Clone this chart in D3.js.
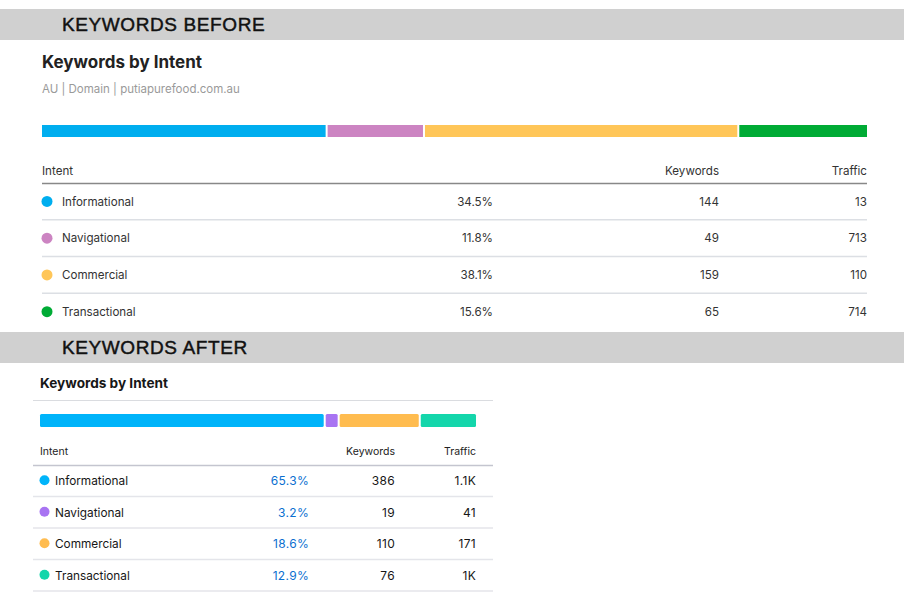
<!DOCTYPE html>
<html>
<head>
<meta charset="utf-8">
<script src="https://cdn.jsdelivr.net/npm/d3@7"></script>
<style>
  body { margin: 0; background: #fff; }
  svg { display: block; }
  text { font-family: Inter, "Noto Sans", sans-serif; }
</style>
</head>
<body>
<div id="chart"></div>
<script>
var svgWidth = 904;
var svgHeight = 601;

// data
var intents = ["Informational", "Navigational", "Commercial", "Transactional"];

var beforePct = [34.5, 11.8, 38.1, 15.6];
var beforeKeywords = [144, 49, 159, 65];
var beforeTraffic = ["13", "713", "110", "714"];
var beforeColors = ["#00aeef", "#cc84c2", "#ffc658", "#00ab35"];

var afterPct = [65.3, 3.2, 18.6, 12.9];
var afterKeywords = [386, 19, 110, 76];
var afterTraffic = ["1.1K", "41", "171", "1K"];
var afterColors = ["#00b4fa", "#a874f2", "#ffbc4f", "#14d6ab"];

var svg = d3.select("#chart")
  .append("svg")
  .attr("width", svgWidth)
  .attr("height", svgHeight);

// section banners
function banner(y, h, label) {
  svg.append("rect")
    .attr("x", 0).attr("y", y)
    .attr("width", svgWidth).attr("height", h)
    .attr("fill", "#d0d0d0");
  svg.append("text")
    .attr("x", 62).attr("y", y + h / 2 + 6.5)
    .style("font-family", "'Liberation Sans', Arial, sans-serif")
    .style("font-size", "19px")
    .style("letter-spacing", "0.6px")
    .attr("fill", "#111")
    .attr("stroke", "#111")
    .attr("stroke-width", 0.45)
    .text(label);
}

banner(9, 31, "KEYWORDS BEFORE");
banner(332, 31, "KEYWORDS AFTER");

// ---------- BEFORE panel ----------
var before = intents.map(function(d, i) {
  return { intent: d, pct: beforePct[i], kw: beforeKeywords[i], traffic: beforeTraffic[i], color: beforeColors[i] };
});

svg.append("text")
  .attr("x", 42).attr("y", 68)
  .style("font-size", "17px").style("font-weight", "700")
  .attr("fill", "#222")
  .text("Keywords by Intent");

svg.append("text")
  .attr("x", 42).attr("y", 93)
  .style("font-size", "11.5px")
  .attr("fill", "#9a9a9a")
  .text("AU | Domain | putiapurefood.com.au");

function stackBar(data, x0, x1, y, h, gap, rx) {
  var xScale = d3.scaleLinear().domain([0, 100]).range([x0, x1]);
  var acc = 0;
  data.forEach(function(d) { d.start = acc; acc += d.pct; d.end = acc; });
  svg.append("g").selectAll("rect")
    .data(data)
    .enter()
    .append("rect")
    .attr("x", function(d, i) { return xScale(d.start) + (i > 0 ? gap / 2 : 0); })
    .attr("y", y)
    .attr("width", function(d, i) {
      var w = xScale(d.end) - xScale(d.start);
      if (i > 0) w -= gap / 2;
      if (i < data.length - 1) w -= gap / 2;
      return Math.max(w, 0);
    })
    .attr("height", h)
    .attr("rx", rx)
    .attr("fill", function(d) { return d.color; });
}

stackBar(before, 42, 867, 125, 12, 2, 0);

// header
var topFont = "11.6px";
var topHeadY = 174.5;
svg.append("text").attr("x", 42).attr("y", topHeadY)
  .style("font-size", topFont).attr("fill", "#333").text("Intent");
svg.append("text").attr("x", 719).attr("y", topHeadY).attr("text-anchor", "end")
  .style("font-size", topFont).attr("fill", "#333").text("Keywords");
svg.append("text").attr("x", 867).attr("y", topHeadY).attr("text-anchor", "end")
  .style("font-size", topFont).attr("fill", "#333").text("Traffic");
svg.append("line")
  .attr("x1", 42).attr("x2", 867).attr("y1", 183.5).attr("y2", 183.5)
  .attr("stroke", "#888").attr("stroke-width", 1.5);

var yTop = d3.scaleBand().domain(intents).range([183, 330]);

var topRows = svg.append("g").selectAll("g")
  .data(before)
  .enter()
  .append("g")
  .attr("transform", function(d) { return "translate(0," + (yTop(d.intent) + yTop.bandwidth() / 2) + ")"; });

topRows.append("circle").attr("cx", 47).attr("cy", 0).attr("r", 5.5)
  .attr("fill", function(d) { return d.color; });
topRows.append("text").attr("x", 62).attr("y", 4.2)
  .style("font-size", topFont).attr("fill", "#333")
  .text(function(d) { return d.intent; });
topRows.append("text").attr("x", 493).attr("y", 4.2).attr("text-anchor", "end")
  .style("font-size", topFont).attr("fill", "#333")
  .text(function(d) { return d.pct.toFixed(1) + "%"; });
topRows.append("text").attr("x", 719).attr("y", 4.2).attr("text-anchor", "end")
  .style("font-size", topFont).attr("fill", "#333")
  .text(function(d) { return d.kw; });
topRows.append("text").attr("x", 867).attr("y", 4.2).attr("text-anchor", "end")
  .style("font-size", topFont).attr("fill", "#333")
  .text(function(d) { return d.traffic; });

svg.append("g").selectAll("line")
  .data(intents.slice(0, 3))
  .enter()
  .append("line")
  .attr("x1", 42).attr("x2", 867)
  .attr("y1", function(d) { return yTop(d) + yTop.bandwidth(); })
  .attr("y2", function(d) { return yTop(d) + yTop.bandwidth(); })
  .attr("stroke", "#dcdfe4").attr("stroke-width", 1.5);

// ---------- AFTER panel ----------
var after = intents.map(function(d, i) {
  return { intent: d, pct: afterPct[i], kw: afterKeywords[i], traffic: afterTraffic[i], color: afterColors[i] };
});

svg.append("text")
  .attr("x", 40).attr("y", 388)
  .style("font-size", "13.6px").style("font-weight", "700")
  .attr("fill", "#171717")
  .text("Keywords by Intent");

svg.append("line")
  .attr("x1", 33).attr("x2", 493).attr("y1", 400.5).attr("y2", 400.5)
  .attr("stroke", "#dadce0").attr("stroke-width", 1);

stackBar(after, 40, 476, 414, 13, 2, 1.5);

var botHeadY = 455;
svg.append("text").attr("x", 40).attr("y", botHeadY)
  .style("font-size", "10.5px").attr("fill", "#222").text("Intent");
svg.append("text").attr("x", 395).attr("y", botHeadY).attr("text-anchor", "end")
  .style("font-size", "10.5px").attr("fill", "#222").text("Keywords");
svg.append("text").attr("x", 476).attr("y", botHeadY).attr("text-anchor", "end")
  .style("font-size", "10.5px").attr("fill", "#222").text("Traffic");
svg.append("line")
  .attr("x1", 33).attr("x2", 493).attr("y1", 465.5).attr("y2", 465.5)
  .attr("stroke", "#c4c5cf").attr("stroke-width", 1.5);

var yBot = d3.scaleBand().domain(intents).range([465, 591]);

var botRows = svg.append("g").selectAll("g")
  .data(after)
  .enter()
  .append("g")
  .attr("transform", function(d) { return "translate(0," + (yBot(d.intent) + yBot.bandwidth() / 2) + ")"; });

botRows.append("circle").attr("cx", 44.5).attr("cy", -0.5).attr("r", 5)
  .attr("fill", function(d) { return d.color; });
botRows.append("text").attr("x", 55).attr("y", 4.5)
  .style("font-size", "11.8px").attr("fill", "#171717")
  .text(function(d) { return d.intent; });
botRows.append("text").attr("x", 309).attr("y", 4.5).attr("text-anchor", "end")
  .style("font-size", "12px").style("letter-spacing", "0.3px").attr("fill", "#0b6fd0")
  .text(function(d) { return d.pct.toFixed(1) + "%"; });
botRows.append("text").attr("x", 395).attr("y", 4.5).attr("text-anchor", "end")
  .style("font-size", "12px").style("letter-spacing", "0.3px").attr("fill", "#171717")
  .text(function(d) { return d.kw; });
botRows.append("text").attr("x", 476).attr("y", 4.5).attr("text-anchor", "end")
  .style("font-size", "12px").style("letter-spacing", "0.3px").attr("fill", "#171717")
  .text(function(d) { return d.traffic; });

svg.append("g").selectAll("line")
  .data(intents)
  .enter()
  .append("line")
  .attr("x1", 33).attr("x2", 493)
  .attr("y1", function(d) { return yBot(d) + yBot.bandwidth(); })
  .attr("y2", function(d) { return yBot(d) + yBot.bandwidth(); })
  .attr("stroke", "#e4e5ea").attr("stroke-width", 1.5);
</script>
</body>
</html>
